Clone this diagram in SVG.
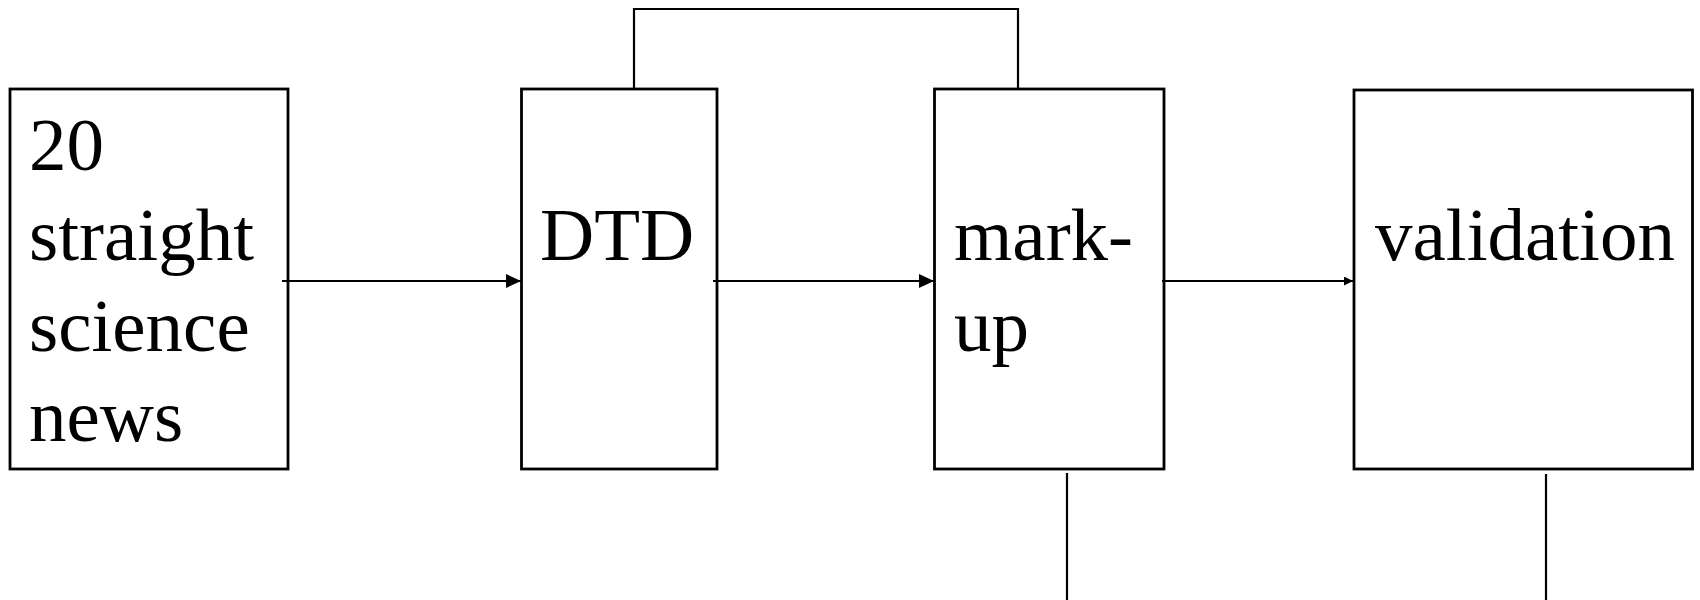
<svg xmlns="http://www.w3.org/2000/svg" width="1700" height="600" viewBox="0 0 1700 600">
<style>
.box{fill:#fff;stroke:#000;stroke-width:2.8}
.lbl{font-family:"Liberation Serif","Times New Roman",serif;font-size:75px;fill:#000}
.con{fill:none;stroke:#000;stroke-width:2.2}
</style>
<defs>
<marker id="ah" markerUnits="userSpaceOnUse" markerWidth="16" markerHeight="14" refX="15" refY="7" orient="auto">
<path d="M0,0 L15,7 L0,14 Z" fill="#000"/>
</marker>
<marker id="ahs" markerUnits="userSpaceOnUse" markerWidth="10" markerHeight="10" refX="9" refY="4.5" orient="auto">
<path d="M0,0 L9,4.5 L0,9 Z" fill="#000"/>
</marker>
</defs>
<rect width="1700" height="600" fill="#fff"/>
<g id="n1">
<rect class="box" x="10" y="89" width="278" height="380"/>
<text class="lbl"><tspan x="29" y="170">20</tspan><tspan x="29" y="260">straight</tspan><tspan x="29" y="351">science</tspan><tspan x="29" y="441">news</tspan></text>
</g>
<g id="n2">
<rect class="box" x="521.5" y="89" width="195.5" height="380"/>
<text class="lbl" x="540" y="260">DTD</text>
</g>
<g id="n3">
<rect class="box" x="934.5" y="89" width="229.5" height="380"/>
<text class="lbl"><tspan x="954" y="260">mark-</tspan><tspan x="954" y="351">up</tspan></text>
</g>
<g id="n4">
<rect class="box" x="1354" y="90" width="338.5" height="379"/>
<text class="lbl" x="1375" y="260">validation</text>
</g>
<g id="connectors">
<line class="con" x1="282" y1="281" x2="521" y2="281" marker-end="url(#ah)"/>
<line class="con" x1="713" y1="281" x2="934" y2="281" marker-end="url(#ah)"/>
<line class="con" x1="1162" y1="281" x2="1353" y2="281" marker-end="url(#ahs)"/>
<polyline class="con" points="634,88 634,9 1018,9 1018,88"/>
<line class="con" x1="1067" y1="473" x2="1067" y2="600"/>
<line class="con" x1="1546" y1="474" x2="1546" y2="600"/>
</g>
</svg>
